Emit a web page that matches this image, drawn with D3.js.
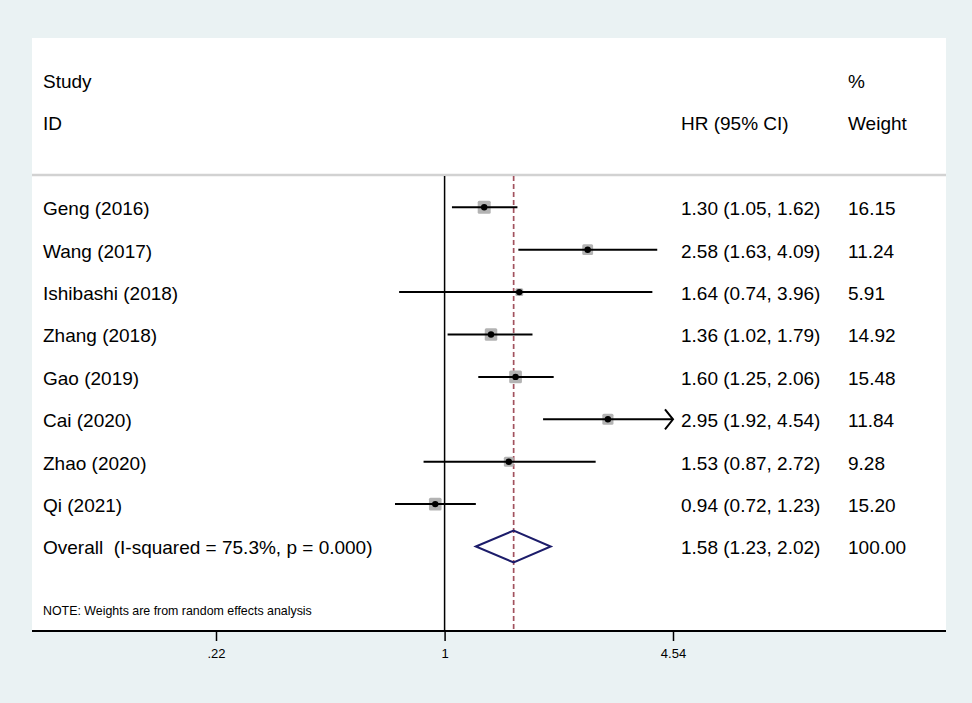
<!DOCTYPE html>
<html>
<head>
<meta charset="utf-8">
<script src="https://cdn.jsdelivr.net/npm/d3@7"></script>
<style>
  body { margin: 0; background: #eaf2f3; }
  svg { display: block; }
  text { font-family: "Liberation Sans", Arial, sans-serif; fill: #000; white-space: pre; }
</style>
</head>
<body>
<svg id="chart"></svg>
<script>
const studies = ['Geng (2016)', 'Wang (2017)', 'Ishibashi (2018)', 'Zhang (2018)',
                 'Gao (2019)', 'Cai (2020)', 'Zhao (2020)', 'Qi (2021)'];
const hr = [1.30, 2.58, 1.64, 1.36, 1.60, 2.95, 1.53, 0.94];
const lower = [1.05, 1.63, 0.74, 1.02, 1.25, 1.92, 0.87, 0.72];
const upper = [1.62, 4.09, 3.96, 1.79, 2.06, 4.54, 2.72, 1.23];
const weights = [16.15, 11.24, 5.91, 14.92, 15.48, 11.84, 9.28, 15.20];
const overallLabel = 'Overall  (I-squared = 75.3%, p = 0.000)';
const overall = [1.58, 1.23, 2.02];
const overallWeight = 100.00;
const tickValues = [0.22, 1, 4.54];
const tickLabels = ['.22', '1', '4.54'];
const note = 'NOTE: Weights are from random effects analysis';

const width = 972;
const height = 703;
const panel = { left: 32, right: 946, top: 38, bottom: 631 };
const colStudy = 43;
const colHR = 681;
const colWeight = 848;
const fontSize = 19;

const fmt = d3.format('.2f');

const x = d3.scaleLog()
      .domain([tickValues[0], tickValues[2]])
      .range([216, 673]);

// row index -> vertical centre (header rows are -3 and -2)
const y = d3.scaleLinear()
      .domain([0, 8])
      .range([207.3, 546.5]);

const boxSize = d3.scaleSqrt()
      .domain([0, 16.15])
      .range([0, 13]);

const svg = d3.select('#chart')
      .attr('width', width)
      .attr('height', height);

svg.append('rect')
    .attr('x', panel.left)
    .attr('y', panel.top)
    .attr('width', panel.right - panel.left)
    .attr('height', panel.bottom - panel.top)
    .attr('fill', '#fff');

// header separator
svg.append('line')
    .attr('x1', panel.left).attr('x2', panel.right)
    .attr('y1', 175).attr('y2', 175)
    .attr('stroke', '#d2d2d2')
    .attr('stroke-width', 2.5);

// headers
const headers = [
  { t: 'Study', x: colStudy, r: -3 },
  { t: 'ID', x: colStudy, r: -2 },
  { t: 'HR (95% CI)', x: colHR, r: -2 },
  { t: '%', x: colWeight, r: -3 },
  { t: 'Weight', x: colWeight, r: -2 }
];
svg.selectAll('text.head')
    .data(headers)
    .enter()
    .append('text')
    .classed('head', true)
    .attr('x', d => d.x)
    .attr('y', d => y(d.r))
    .attr('dy', '0.42em')
    .attr('font-size', fontSize)
    .text(d => d.t);

// null line and overall line
svg.append('line')
    .attr('x1', x(1)).attr('x2', x(1))
    .attr('y1', 176).attr('y2', panel.bottom)
    .attr('stroke', '#000')
    .attr('stroke-width', 1.5);

svg.append('line')
    .attr('x1', x(overall[0])).attr('x2', x(overall[0]))
    .attr('y1', 176).attr('y2', panel.bottom)
    .attr('stroke', '#a2525e')
    .attr('stroke-width', 1.7)
    .attr('stroke-dasharray', '5,3');

const rows = studies.map((s, i) => ({
  name: s, hr: hr[i], lo: lower[i], hi: upper[i], w: weights[i], i
}));

const xMax = x.domain()[1];

// weight boxes
svg.selectAll('rect.box')
    .data(rows)
    .enter()
    .append('rect')
    .classed('box', true)
    .attr('x', d => x(d.hr) - boxSize(d.w) / 2)
    .attr('y', d => y(d.i) - boxSize(d.w) / 2)
    .attr('width', d => boxSize(d.w))
    .attr('height', d => boxSize(d.w))
    .attr('rx', 1.5)
    .attr('fill', '#b3b3b3');

// CI lines
svg.selectAll('line.ci')
    .data(rows)
    .enter()
    .append('line')
    .classed('ci', true)
    .attr('x1', d => x(d.lo))
    .attr('x2', d => x(Math.min(d.hi, xMax)))
    .attr('y1', d => y(d.i))
    .attr('y2', d => y(d.i))
    .attr('stroke', '#000')
    .attr('stroke-width', 2);

// arrows where CI reaches the axis edge
svg.selectAll('path.arrow')
    .data(rows.filter(d => d.hi >= xMax))
    .enter()
    .append('path')
    .classed('arrow', true)
    .attr('d', d => {
      const ax = x(xMax), ay = y(d.i);
      return `M${ax - 8},${ay - 10}L${ax},${ay}L${ax - 8},${ay + 10}`;
    })
    .attr('fill', 'none')
    .attr('stroke', '#000')
    .attr('stroke-width', 2);

// point estimates
svg.selectAll('circle.pt')
    .data(rows)
    .enter()
    .append('circle')
    .classed('pt', true)
    .attr('cx', d => x(d.hr))
    .attr('cy', d => y(d.i))
    .attr('r', 3.2)
    .attr('fill', '#000');

// overall diamond
const oy = y(studies.length);
svg.append('path')
    .attr('d', `M${x(overall[1])},${oy}L${x(overall[0])},${oy - 16}L${x(overall[2])},${oy}L${x(overall[0])},${oy + 16}Z`)
    .attr('fill', 'none')
    .attr('stroke', '#1c1c6a')
    .attr('stroke-width', 2);

// row text
const labelRows = rows.map(d => ({
  name: d.name,
  ci: `${fmt(d.hr)} (${fmt(d.lo)}, ${fmt(d.hi)})`,
  w: fmt(d.w),
  i: d.i
}));
labelRows.push({
  name: overallLabel,
  ci: `${fmt(overall[0])} (${fmt(overall[1])}, ${fmt(overall[2])})`,
  w: fmt(overallWeight),
  i: studies.length
});

const rowG = svg.selectAll('g.row')
    .data(labelRows)
    .enter()
    .append('g')
    .classed('row', true)
    .attr('font-size', fontSize);

rowG.append('text')
    .attr('x', colStudy)
    .attr('y', d => y(d.i))
    .attr('dy', '0.42em')
    .text(d => d.name);

rowG.append('text')
    .attr('x', colHR)
    .attr('y', d => y(d.i))
    .attr('dy', '0.42em')
    .text(d => d.ci);

rowG.append('text')
    .attr('x', colWeight)
    .attr('y', d => y(d.i))
    .attr('dy', '0.42em')
    .text(d => d.w);

svg.append('text')
    .attr('x', colStudy)
    .attr('y', 615)
    .attr('font-size', 12.4)
    .text(note);

// x axis
svg.append('line')
    .attr('x1', panel.left).attr('x2', panel.right)
    .attr('y1', panel.bottom).attr('y2', panel.bottom)
    .attr('stroke', '#000')
    .attr('stroke-width', 2);

const xAxis = d3.axisBottom(x)
      .tickValues(tickValues)
      .tickFormat((d, i) => tickLabels[i])
      .tickSize(10)
      .tickPadding(8);

const axisG = svg.append('g')
    .attr('transform', `translate(0, ${panel.bottom})`)
    .call(xAxis);

axisG.select('.domain').remove();
axisG.selectAll('.tick line').attr('stroke', '#000').attr('stroke-width', 1.5);
axisG.selectAll('.tick text')
    .attr('font-family', '"Liberation Sans", Arial, sans-serif')
    .attr('font-size', 13)
    .attr('fill', '#000');
</script>
</body>
</html>
